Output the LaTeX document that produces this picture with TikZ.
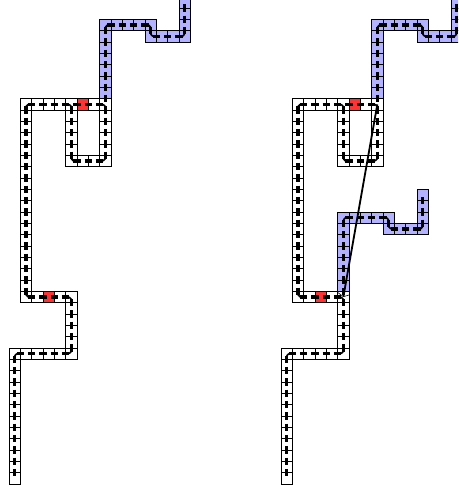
\documentclass[tikz,border=0pt]{standalone}
\usetikzlibrary{arrows.meta}
\definecolor{cellblue}{RGB}{178,178,255}
\definecolor{cellred}{RGB}{255,51,51}
\tikzset{
  x=11.3333pt,y=-11.3333pt,
  cellbox/.style={draw=black,line width=0.8pt},
  whitecell/.style={cellbox,fill=white},
  bluecell/.style={cellbox,fill=cellblue},
  redcell/.style={cellbox,fill=cellred},
  wire/.style={draw=black,line width=3.2pt,line cap=butt},
  bendwire/.style={draw=black,line width=1.6pt,line cap=butt},
  link/.style={draw=black,line width=1.8pt,-{Straight Barb[length=3pt,width=12pt,line width=0.6pt]}}
}
\newcommand{\cellsq}[3]{\path[#1] (#2,#3) rectangle ++(1,1);}
\newcommand{\vcross}[2]{\path[wire] ({#1+.5},{#2-.33}) -- ({#1+.5},{#2+.33});}
\newcommand{\hcross}[2]{\path[wire] ({#1-.33},{#2+.5}) -- ({#1+.33},{#2+.5});}
\newcommand{\bendcell}[4]{\path[bendwire] ({#1+.5+#3*.2},{#2+.5}) -- ({#1+.5},{#2+.5+#4*.2});}
\newcommand{\basecells}{%
  \foreach \j in {30,...,41} {\cellsq{whitecell}{0}{\j}}
  \foreach \k in {0,...,5} {\cellsq{whitecell}{\k}{30}}
  \foreach \j in {25,...,30} {\cellsq{whitecell}{5}{\j}}
  \foreach \k in {1,...,5} {\cellsq{whitecell}{\k}{25}}
  \cellsq{redcell}{3}{25}
  \foreach \j in {8,...,25} {\cellsq{whitecell}{1}{\j}}
  \foreach \k in {1,...,8} {\cellsq{whitecell}{\k}{8}}
  \cellsq{redcell}{6}{8}
  \foreach \j in {8,...,13} {\cellsq{whitecell}{5}{\j}\cellsq{whitecell}{8}{\j}}
  \foreach \k in {5,...,8} {\cellsq{whitecell}{\k}{13}}
  \foreach \j in {1,...,7} {\cellsq{bluecell}{8}{\j}}
  \foreach \k in {8,...,12} {\cellsq{bluecell}{\k}{1}}
  \foreach \k in {12,...,15} {\cellsq{bluecell}{\k}{2}}
  \foreach \j in {-1,...,1} {\cellsq{bluecell}{15}{\j}}
}
\newcommand{\basewires}{%
  \foreach \j in {31,...,41} {\vcross{0}{\j}}
  \bendcell{0}{30}{1}{1}
  \foreach \k in {1,...,5} {\hcross{\k}{30}}
  \bendcell{5}{30}{-1}{-1}
  \foreach \j in {26,...,30} {\vcross{5}{\j}}
  \bendcell{5}{25}{-1}{1}
  \foreach \k in {2,...,5} {\hcross{\k}{25}}
  \bendcell{1}{25}{1}{-1}
  \foreach \j in {9,...,25} {\vcross{1}{\j}}
  \bendcell{1}{8}{1}{1}
  \foreach \k in {2,...,8} {\hcross{\k}{8}}
  \bendcell{5}{8}{-1}{1}
  \foreach \j in {9,...,13} {\vcross{5}{\j}\vcross{8}{\j}}
  \bendcell{5}{13}{1}{-1}
  \foreach \k in {6,...,8} {\hcross{\k}{13}}
  \bendcell{8}{13}{-1}{-1}
  \bendcell{8}{8}{-1}{1}
  \foreach \j in {2,...,8} {\vcross{8}{\j}}
  \bendcell{8}{1}{1}{1}
  \foreach \k in {9,...,12} {\hcross{\k}{1}}
  \bendcell{12}{1}{-1}{1}
  \vcross{12}{2}
  \bendcell{12}{2}{1}{-1}
  \foreach \k in {13,...,15} {\hcross{\k}{2}}
  \bendcell{15}{2}{-1}{-1}
  \foreach \j in {-1,...,2} {\vcross{15}{\j}}
}
\begin{document}
\begin{tikzpicture}
  \useasboundingbox[clip] (-0.7941,-0.7059) rectangle (39.6176,42.5294);
  % left figure
  \basecells
  \basewires
  % right figure
  \begin{scope}[shift={(24,0)}]
    \basecells
    \foreach \j in {18,...,24} {\cellsq{bluecell}{5}{\j}}
    \foreach \k in {5,...,9} {\cellsq{bluecell}{\k}{18}}
    \foreach \k in {9,...,12} {\cellsq{bluecell}{\k}{19}}
    \foreach \j in {16,...,18} {\cellsq{bluecell}{12}{\j}}
    \basewires
    \foreach \j in {19,...,25} {\vcross{5}{\j}}
    \bendcell{5}{18}{1}{1}
    \foreach \k in {6,...,9} {\hcross{\k}{18}}
    \bendcell{9}{18}{-1}{1}
    \vcross{9}{19}
    \bendcell{9}{19}{1}{-1}
    \foreach \k in {10,...,12} {\hcross{\k}{19}}
    \bendcell{12}{19}{-1}{-1}
    \foreach \j in {17,...,19} {\vcross{12}{\j}}
    \coordinate (linkstart) at (8.5,8.5);
    \coordinate (linkend) at (5.5,25.5);
    \path[link] (linkstart) -- (linkend);
  \end{scope}
\end{tikzpicture}
\end{document}
